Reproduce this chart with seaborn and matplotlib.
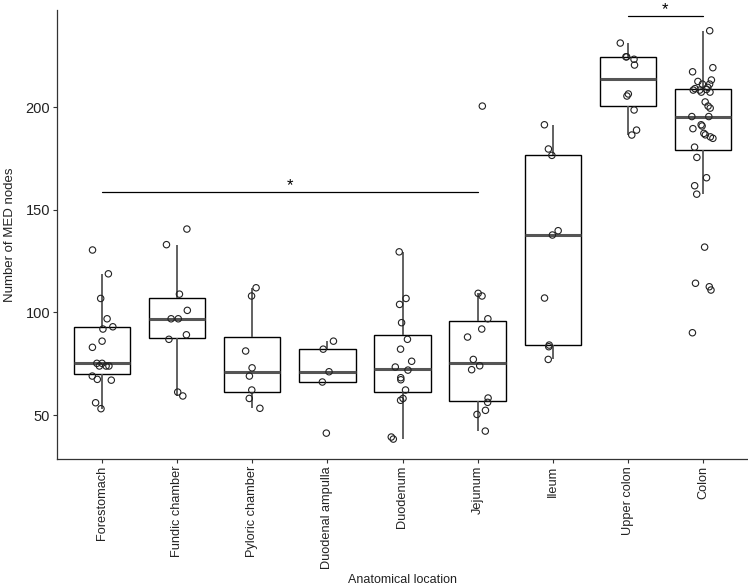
import numpy as np
import pandas as pd
import matplotlib
matplotlib.use("Agg")
import matplotlib.pyplot as plt
import seaborn as sns

categories = ["Forestomach", "Fundic chamber", "Pyloric chamber", "Duodenal ampulla",
              "Duodenum", "Jejunum", "Ileum", "Upper colon", "Colon"]

forestomach = [130.4, 118.8, 106.8, 96.9, 93.0, 91.9, 86.0, 83.0, 75.2, 75.2,
               73.9, 73.9, 73.9, 69.0, 67.4, 67.0, 56.0, 53.1]
fundic_chamber = [140.6, 133.0, 108.9, 101.0, 96.9, 96.9, 89.1, 86.9, 61.2, 59.3]
pyloric_chamber = [112.0, 108.0, 81.2, 73.0, 69.0, 62.2, 58.1, 53.3]
duodenal_ampulla = [86.0, 82.1, 71.1, 66.1, 41.2]
duodenum = [129.5, 106.8, 103.9, 95.0, 86.9, 82.1, 76.2, 73.4, 71.9, 68.2, 67.2,
            62.2, 58.1, 57.2, 39.3, 38.3]
jejunum = [200.5, 109.3, 108.0, 96.9, 91.9, 88.0, 77.1, 74.0, 72.1, 58.3, 56.2,
           52.3, 50.3, 42.2]
ileum = [191.4, 179.6, 176.5, 139.8, 137.7, 107.0, 84.1, 83.3, 77.1]
upper_colon = [231.2, 224.5, 224.5, 223.3, 220.5, 206.4, 205.4, 198.6, 188.8, 186.4]
colon = [237.2, 219.2, 217.2, 213.2, 212.5, 211.2, 211.2, 209.6, 209.0, 208.6,
         208.3, 208.3, 207.3, 207.3, 202.5, 200.5, 199.5, 195.4, 195.4, 191.4,
         190.8, 189.5, 187.2, 186.5, 185.5, 184.8, 180.5, 175.5, 165.6, 161.7,
         157.6, 131.8, 114.2, 112.5, 110.9, 90.1]

series = [forestomach, fundic_chamber, pyloric_chamber, duodenal_ampulla,
          duodenum, jejunum, ileum, upper_colon, colon]

y_ticks = [50, 100, 150, 200]
sig_pairs = [("Forestomach", "Jejunum", 158.6), ("Upper colon", "Colon", 244.4)]

rows = []
for cat, vals in zip(categories, series):
    for v in vals:
        rows.append({"location": cat, "nodes": v})
df = pd.DataFrame(rows)

sns.set_style("white")
plt.rcParams["font.family"] = ["Liberation Sans", "DejaVu Sans"]

fig = plt.figure(figsize=(7.48, 5.88), dpi=100)
ax = fig.add_axes([57 / 748, (588 - 459) / 588, 1 - 57 / 748, (459 - 10) / 588])

sns.boxplot(data=df, x="location", y="nodes", order=categories, ax=ax,
            width=0.75, showfliers=False, showcaps=False, color="white",
            boxprops=dict(edgecolor="black", linewidth=1.0),
            whiskerprops=dict(color="#555555", linewidth=1.3),
            medianprops=dict(color="#555555", linewidth=2.2))

np.random.seed(7)
n_before = len(ax.collections)
sns.stripplot(data=df, x="location", y="nodes", order=categories, ax=ax,
              jitter=0.15, size=4.6, color="black", linewidth=0.8,
              edgecolor="black")
for coll in ax.collections[n_before:]:
    coll.set_facecolor("none")
    coll.set_edgecolor("#222222")
    coll.set_linewidth(0.8)
    coll.set_zorder(5)

ax.set_xlim(-0.6, len(categories) - 0.4)
ax.set_ylim(28.6, 247.3)
ax.set_yticks(y_ticks)
ax.set_yticklabels([str(t) for t in y_ticks], fontsize=10.5, color="#222222")
ax.set_xticks(range(len(categories)))
ax.set_xticklabels(categories, rotation=90, fontsize=9.2, color="#222222")
ax.tick_params(axis="both", length=3, width=0.8, color="#333333", pad=2,
               left=True, bottom=True)
ax.set_xlabel("Anatomical location", fontsize=9, color="#222222", labelpad=4)
ax.set_ylabel("Number of MED nodes", fontsize=9.5, color="#222222", labelpad=7)

for side in ["top", "right"]:
    ax.spines[side].set_visible(False)
for side in ["left", "bottom"]:
    ax.spines[side].set_color("#333333")
    ax.spines[side].set_linewidth(0.9)

for a, b, y in sig_pairs:
    xa, xb = categories.index(a), categories.index(b)
    ax.plot([xa, xb], [y, y], color="black", linewidth=0.9, clip_on=False)
    ax.text((xa + xb) / 2, y + 1.0, "*", ha="center", va="baseline",
            fontsize=12, color="black", clip_on=False)

fig.savefig("out.png", dpi=100, facecolor="white")
